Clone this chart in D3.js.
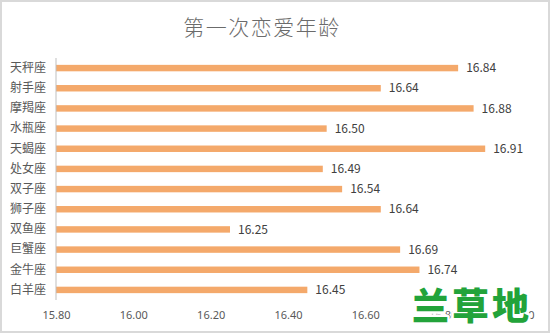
<!DOCTYPE html>
<html>
<head>
<meta charset="utf-8">
<script src="https://d3js.org/d3.v7.min.js"></script>
<style>
  body { margin: 0; background: #fff; }
  text { font-family: "Noto Sans CJK SC", "Noto Sans", sans-serif; }
</style>
</head>
<body>
<div id="chart"></div>
<script>
// data, top to bottom as shown
var signs = ["天秤座", "射手座", "摩羯座", "水瓶座", "天蝎座", "处女座",
             "双子座", "狮子座", "双鱼座", "巨蟹座", "金牛座", "白羊座"];
var ages = [16.84, 16.64, 16.88, 16.50, 16.91, 16.49,
            16.54, 16.64, 16.25, 16.69, 16.74, 16.45];
var xTicks = [15.8, 16.0, 16.2, 16.4, 16.6, 16.8, 17.0];

var W = 550, H = 333;
var svg = d3.select("#chart").append("svg")
    .attr("width", W).attr("height", H);

// chart border
svg.append("rect")
    .attr("x", 1).attr("y", 1).attr("width", W - 2).attr("height", H - 2)
    .attr("fill", "#fff").attr("stroke", "#d9d9d9").attr("stroke-width", 2);

svg.append("text")
    .attr("x", 262).attr("y", 35)
    .attr("text-anchor", "middle")
    .attr("font-size", 21).attr("font-weight", 300)
    .attr("fill", "#6b6b6b")
    .attr("letter-spacing", 1.5)
    .text("第一次恋爱年龄");

var x = d3.scaleLinear().domain([15.8, 17.0]).range([56, 520]);
var y = d3.scaleBand().domain(signs).range([58, 300]).paddingInner(0.68).paddingOuter(0.34);

var data = signs.map(function(s, i) { return { sign: s, age: ages[i] }; });

svg.selectAll("rect.bar")
    .data(data)
    .enter().append("rect")
    .attr("class", "bar")
    .attr("x", x(15.8))
    .attr("y", function(d) { return y(d.sign); })
    .attr("width", function(d) { return x(d.age) - x(15.8); })
    .attr("height", y.bandwidth())
    .attr("fill", "#F4A96B");

svg.selectAll("text.val")
    .data(data)
    .enter().append("text")
    .attr("class", "val")
    .attr("x", function(d) { return x(d.age) + 8; })
    .attr("y", function(d) { return y(d.sign) + y.bandwidth() / 2; })
    .attr("dy", "0.35em")
    .attr("font-size", 12).attr("fill", "#404040")
    .text(function(d) { return d3.format(".2f")(d.age); });

// category axis
var yAxis = svg.append("g")
    .attr("transform", "translate(56,0)")
    .call(d3.axisLeft(y).tickSize(0).tickPadding(10));
yAxis.select(".domain").attr("stroke", "#bfbfbf").attr("d", "M0,58V300");
yAxis.selectAll("text").attr("font-size", 12).attr("fill", "#595959")
    .style("font-family", "'Noto Sans CJK SC', sans-serif");

// value axis, labels only
var xAxis = svg.append("g")
    .attr("transform", "translate(0,300)")
    .call(d3.axisBottom(x).tickValues(xTicks).tickSize(0).tickPadding(11)
        .tickFormat(d3.format(".2f")));
xAxis.select(".domain").remove();
xAxis.selectAll("text").attr("font-size", 11).attr("fill", "#595959")
    .style("font-family", "'Noto Sans', sans-serif");

// watermark, sits over the last two tick labels like in the picture
svg.append("text")
    .attr("x", 472).attr("y", 320)
    .attr("text-anchor", "middle")
    .attr("font-size", 37).attr("font-weight", 900)
    .attr("fill", "#22a33a")
    .attr("stroke", "#fff").attr("stroke-width", 5)
    .attr("stroke-linejoin", "round")
    .attr("paint-order", "stroke")
    .attr("letter-spacing", 3)
    .text("兰草地");
</script>
</body>
</html>
